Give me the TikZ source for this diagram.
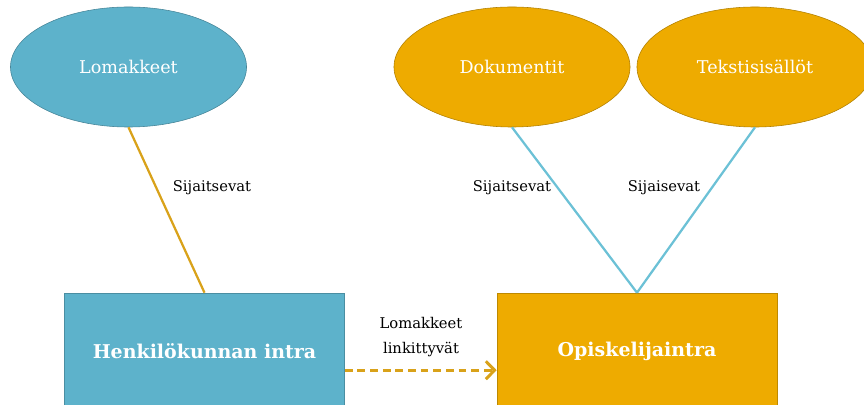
\documentclass[tikz,border=0pt]{standalone}
\usepackage{fontspec}
\setmainfont{DejaVu Serif}
\usetikzlibrary{shapes.geometric,arrows.meta}
\definecolor{intrablue}{HTML}{5DB2CB}
\definecolor{intragold}{HTML}{EEAB00}
\definecolor{lineblue}{HTML}{6CC1D6}
\definecolor{linegold}{HTML}{D9A21A}
\tikzset{
  aihe/.style={ellipse,draw=#1!75!black,fill=#1,text=white,inner sep=0pt,
    minimum width=5.9cm,minimum height=3cm,font=\fontsize{12.5}{14}\selectfont},
  intra/.style={rectangle,draw=#1!80!black,fill=#1,text=white,inner sep=0pt,
    minimum width=7.0cm,minimum height=2.9cm,font=\bfseries\fontsize{13.5}{15}\selectfont},
  suhde/.style={font=\fontsize{10.5}{18}\selectfont,inner sep=1pt},
}
\begin{document}
\begin{tikzpicture}[x=0.025cm,y=-0.025cm]
  \useasboundingbox (0,0) rectangle (864,405);
  % aiheet
  \node[aihe=intrablue] (lomakkeet) at (128.5,67) {Lomakkeet};
  \node[aihe=intragold] (dokumentit) at (512,67) {Dokumentit};
  \node[aihe=intragold] (tekstit) at (755,67) {Tekstisisällöt};
  % intrat
  \node[intra=intrablue] (henk) at (204.5,351) {Henkilökunnan intra};
  \node[intra=intragold] (opisk) at (637,351) {Opiskelijaintra};
  % yhteydet
  \draw[linegold,line width=1.6pt] (lomakkeet.south) -- (henk.north);
  \draw[lineblue,line width=1.6pt] (dokumentit.south) -- (opisk.north);
  \draw[lineblue,line width=1.6pt] (tekstit.south) -- (opisk.north);
  \draw[linegold,line width=2.1pt,dash pattern=on 5.5pt off 3.5pt,
    -{Straight Barb[length=2.2mm,width=4.5mm]}]
    ([yshift=-0.48cm]henk.east) -- ([yshift=-0.48cm]opisk.west);
  \node[suhde] (s1) at (212,188) {Sijaitsevat};
  \node[suhde] (s2) at (512,188) {Sijaitsevat};
  \node[suhde] (s3) at (664,188) {Sijaisevat};
  \node[suhde,align=center] (s4) at (421,337) {Lomakkeet\\linkittyvät};
\end{tikzpicture}
\end{document}
